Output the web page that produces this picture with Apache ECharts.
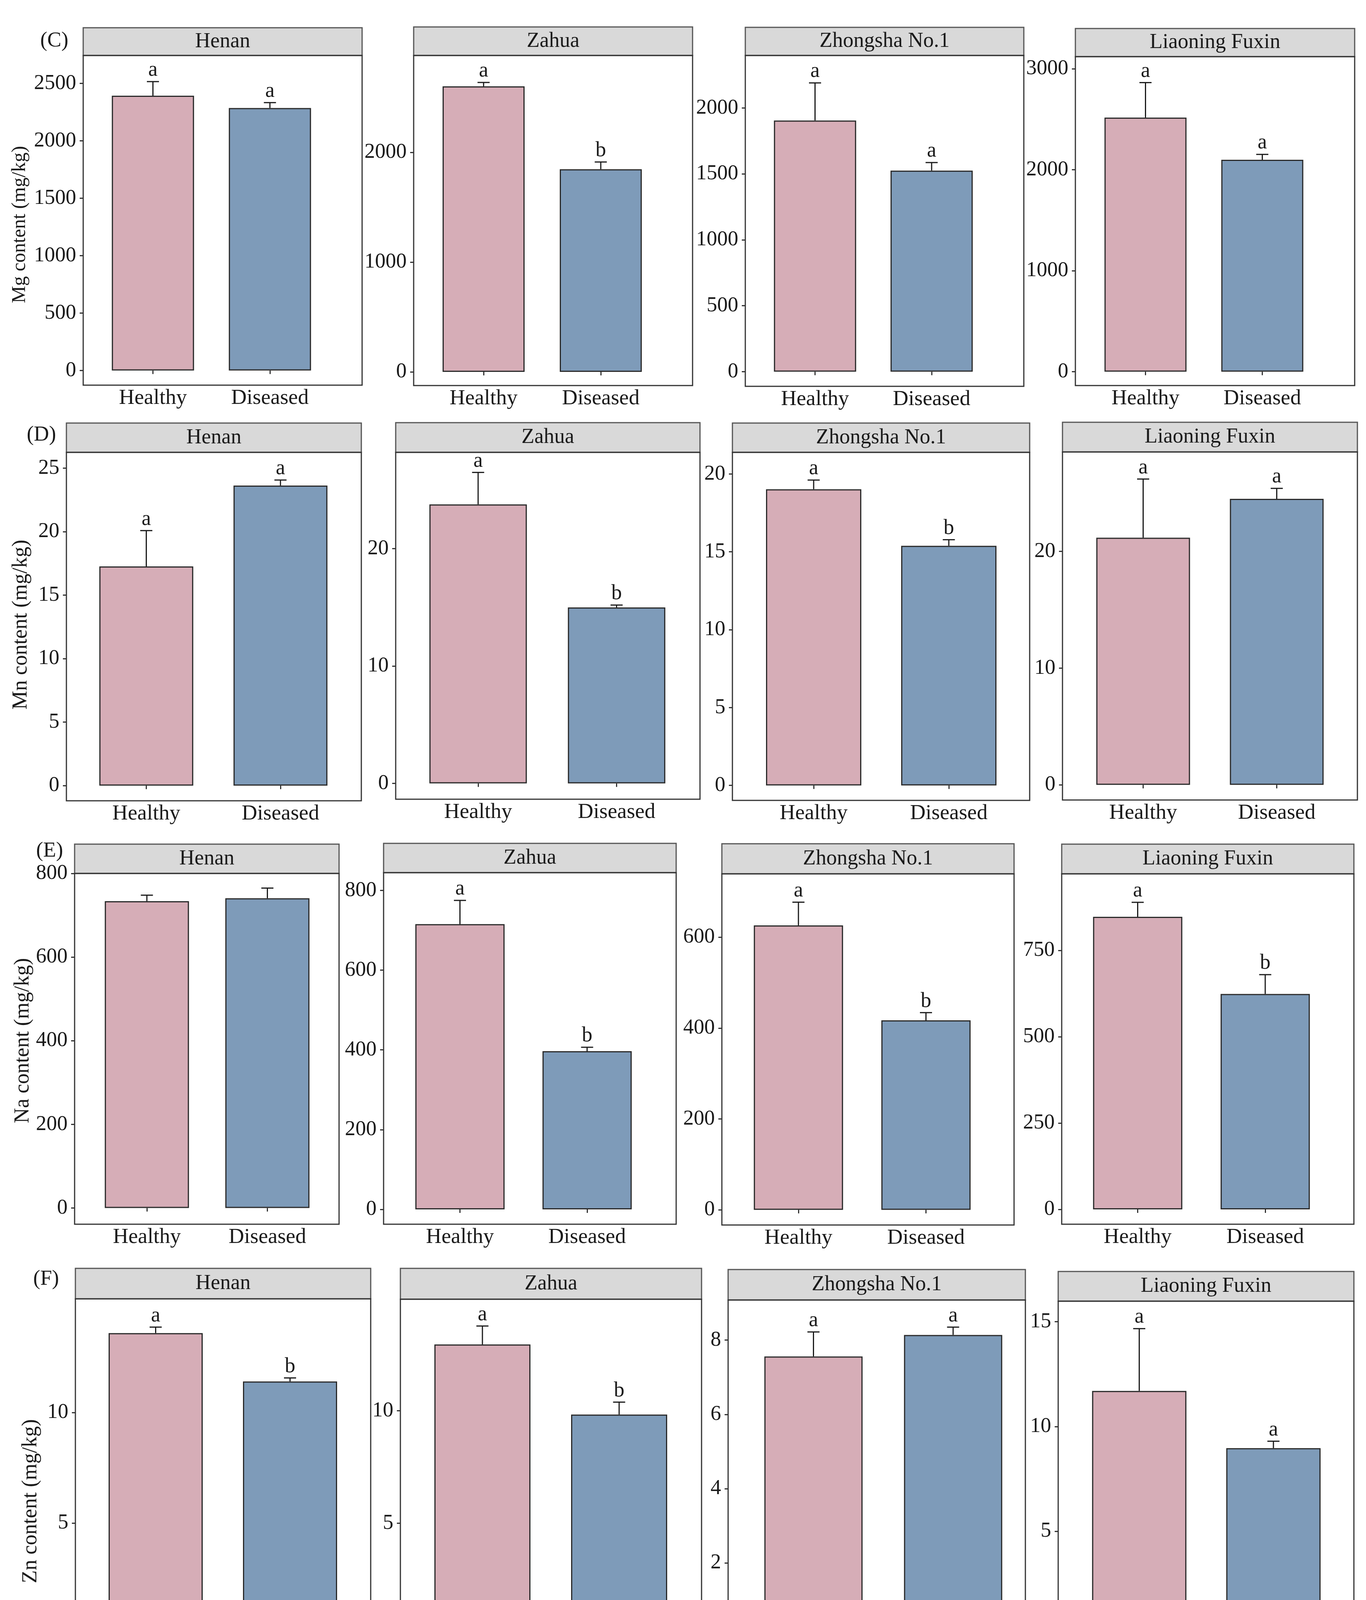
<!DOCTYPE html>
<html>
<head>
<meta charset="utf-8">
<script src="https://cdn.jsdelivr.net/npm/echarts@6/dist/echarts.min.js"></script>
<style>
html,body{margin:0;padding:0;background:#ffffff;overflow:hidden;}
#chart{width:3497px;height:4342px;}
</style>
</head>
<body>
<div id="chart"></div>
<script>
// ---------------- DATA ----------------
const categories = ['Healthy', 'Diseased'];
const varieties = ['Henan', 'Zahua', 'Zhongsha No.1', 'Liaoning Fuxin'];
const rowLabels = ['(C)', '(D)', '(E)', '(F)'];
const yTitles = ['Mg content (mg/kg)', 'Mn content (mg/kg)', 'Na content (mg/kg)', 'Zn content (mg/kg)'];

// mean values [Healthy, Diseased] per variety
const mgMean  = [[2393, 2286], [2603, 1847], [1905, 1525], [2517, 2099]];
const mgUpper = [[2516, 2333], [2638, 1913], [2190, 1586], [2863, 2152]];
const mgLetters = [['a', 'a'], ['a', 'b'], ['a', 'a'], ['a', 'a']];
const mgTicks = [[0, 500, 1000, 1500, 2000, 2500], [0, 1000, 2000], [0, 500, 1000, 1500, 2000], [0, 1000, 2000, 3000]];

const mnMean  = [[17.26, 23.63], [23.77, 14.99], [19.02, 15.39], [21.17, 24.5]];
const mnUpper = [[20.08, 24.06], [26.49, 15.19], [19.61, 15.78], [26.2, 25.4]];
const mnLetters = [['a', 'a'], ['a', 'b'], ['a', 'b'], ['a', 'a']];
const mnTicks = [[0, 5, 10, 15, 20, 25], [0, 10, 20], [0, 5, 10, 15, 20], [0, 10, 20]];

const naMean  = [[733.8, 740.6], [715.4, 396.7], [626, 417], [847, 623.6]];
const naUpper = [[748, 765], [775, 406.6], [677, 434], [889, 679.6]];
const naLetters = [['', ''], ['a', 'b'], ['a', 'b'], ['a', 'b']];
const naTicks = [[0, 200, 400, 600, 800], [0, 200, 400, 600, 800], [0, 200, 400, 600], [0, 250, 500, 750]];

const znMean  = [[13.6, 11.41], [12.94, 9.83], [7.56, 8.14], [11.70, 8.97]];
const znUpper = [[13.87, 11.57], [13.76, 10.38], [8.22, 8.35], [14.67, 9.30]];
const znLetters = [['a', 'b'], ['a', 'b'], ['a', 'a'], ['a', 'a']];
const znTicks = [[0, 5, 10], [0, 5, 10], [0, 2, 4, 6, 8], [0, 5, 10, 15]];

const rowsMean = [mgMean, mnMean, naMean, znMean];
const rowsUpper = [mgUpper, mnUpper, naUpper, znUpper];
const rowsLetters = [mgLetters, mnLetters, naLetters, znLetters];
const rowsTicks = [mgTicks, mnTicks, naTicks, znTicks];

// ---------------- LAYOUT (pixels) ----------------
// frame: [left, top, right, bottom, stripTop]
const frames = [
  [[213, 142, 927, 986, 71], [1059, 142, 1773, 987, 69], [1908, 142, 2621, 989, 70], [2753, 145, 3468, 987, 73]],
  [[170, 1158, 925, 2050, 1083], [1013, 1158, 1792, 2046, 1082], [1875, 1158, 2636, 2049, 1083], [2720, 1157, 3475, 2048, 1081]],
  [[191, 2236, 868, 3134, 2161], [982, 2234, 1731, 3134, 2159], [1848, 2237, 2596, 3136, 2160], [2718, 2237, 3466, 3134, 2161]],
  [[193, 3325, 949, 4222, 3247], [1025, 3326, 1796, 4227, 3247], [1864, 3328, 2625, 4231, 3250], [2709, 3331, 3466, 4229, 3255]]
];
// bar edges: [healthyLeft, healthyRight, diseasedLeft, diseasedRight]
const barEdges = [
  [[286, 497, 586, 796], [1133, 1343, 1433, 1643], [1981, 2192, 2280, 2490], [2828, 3037, 3126, 3337]],
  [[254, 495, 598, 838], [1099, 1349, 1454, 1703], [1961, 2205, 2307, 2551], [2806, 3047, 3149, 3388]],
  [[268, 484, 577, 792], [1064, 1291, 1388, 1618], [1930, 2158, 2256, 2485], [2798, 3027, 3125, 3353]],
  [[278, 519, 622, 863], [1112, 1358, 1462, 1708], [1957, 2208, 2314, 2566], [2796, 3037, 3139, 3381]]
];
// y axis extents [min, max]
const yRanges = [
  [[-127.6, 2743.6], [-124.6, 2884], [-111, 2398], [-137, 3120]],
  [[-1.19, 26.24], [-1.35, 28.2], [-0.96, 21.39], [-1.30, 28.52]],
  [[-38.7, 800], [-37.3, 844.6], [-33.3, 739.4], [-43, 971.5]],
  [[-0.71, 15.15], [-0.68, 14.95], [-0.416, 9.08], [-0.754, 15.98]]
];
const rowLabelPos = [[139, 105], [106, 1114], [127, 2179], [118, 3275]];
const yTitlePos = [[51, 575, 50], [54, 1599, 54], [59, 2664, 54], [79, 3843, 54]];

// ---------------- STYLE ----------------
const FONT = '"Liberation Serif", "Times New Roman", serif';
const TXT = '#1a1a1a';
const colors = ['#D6ADB7', '#7E9BB9'];
const frameColor = '#333333';

// ---------------- BUILD ----------------
const grid = [], xAxis = [], yAxis = [], series = [], graphic = [];
let gi = 0;
for (let r = 0; r < 4; r++) {
  for (let c = 0; c < 4; c++) {
    const [fl, ft, fr, fb, st] = frames[r][c];
    const [hl, hr, dl, dr] = barEdges[r][c];
    const c1 = (hl + hr) / 2, c2 = (dl + dr) / 2;
    const bw = ((hr - hl) + (dr - dl)) / 2;
    const W = 2 * (c2 - c1);
    const L = c1 - W / 4;
    grid.push({ left: L, top: ft, width: W, height: fb - ft, containLabel: false });
    xAxis.push({
      type: 'category', gridIndex: gi, data: categories,
      axisLine: { show: false },
      axisTick: { show: true, alignWithLabel: true, length: 9, lineStyle: { color: frameColor, width: 3 } },
      axisLabel: { fontFamily: FONT, fontSize: 55, color: TXT, margin: 6 },
      splitLine: { show: false }
    });
    yAxis.push({
      type: 'value', gridIndex: gi, min: yRanges[r][c][0], max: yRanges[r][c][1],
      offset: L - fl,
      axisLine: { show: false },
      axisTick: { show: true, length: 9, customValues: rowsTicks[r][c], lineStyle: { color: frameColor, width: 3 } },
      axisLabel: { fontFamily: FONT, fontSize: 54, color: TXT, margin: 18, customValues: rowsTicks[r][c], formatter: function (v) { return String(v); } },
      splitLine: { show: false }
    });
    const means = rowsMean[r][c];
    const uppers = rowsUpper[r][c];
    const letters = rowsLetters[r][c];
    series.push({
      type: 'bar', xAxisIndex: gi, yAxisIndex: gi, barWidth: bw,
      data: means.map((v, i) => ({ value: v, itemStyle: { color: colors[i] } })),
      itemStyle: { borderColor: '#2a2a2a', borderWidth: 3 },
      silent: true, animation: false, z: 2
    });
    series.push({
      type: 'custom', xAxisIndex: gi, yAxisIndex: gi, z: 3, silent: true, animation: false,
      data: means.map((v, i) => [i, v, uppers[i]]),
      renderItem: function (params, api) {
        const base = api.coord([api.value(0), api.value(1)]);
        const top = api.coord([api.value(0), api.value(2)]);
        const half = 15.5;
        const children = [
          { type: 'line', shape: { x1: base[0], y1: base[1], x2: base[0], y2: top[1] }, style: { stroke: '#1a1a1a', lineWidth: 3 } },
          { type: 'line', shape: { x1: base[0] - half, y1: top[1], x2: base[0] + half, y2: top[1] }, style: { stroke: '#1a1a1a', lineWidth: 3 } }
        ];
        const lt = letters[params.dataIndex];
        if (lt) {
          children.push({ type: 'text', style: { text: lt, x: base[0], y: top[1] - 2, align: 'center', verticalAlign: 'bottom', fontFamily: FONT, fontSize: 54, fill: TXT } });
        }
        return { type: 'group', children: children };
      }
    });
    // strip
    graphic.push({ type: 'rect', shape: { x: fl, y: st, width: fr - fl, height: ft - st }, style: { fill: '#D9D9D9', stroke: '#555555', lineWidth: 3 }, z: 10, silent: true });
    graphic.push({ type: 'text', x: (fl + fr) / 2, y: (st + ft) / 2, style: { text: varieties[c], align: 'center', verticalAlign: 'middle', fontFamily: FONT, fontSize: 54, fill: TXT }, z: 11, silent: true });
    // frame
    graphic.push({ type: 'rect', shape: { x: fl, y: ft, width: fr - fl, height: fb - ft }, style: { fill: 'none', stroke: frameColor, lineWidth: 3 }, z: 10, silent: true });
    gi++;
  }
  graphic.push({ type: 'text', x: rowLabelPos[r][0], y: rowLabelPos[r][1], style: { text: rowLabels[r], align: 'center', verticalAlign: 'middle', fontFamily: FONT, fontSize: 54, fill: TXT }, z: 11, silent: true });
  graphic.push({ type: 'text', x: yTitlePos[r][0], y: yTitlePos[r][1], rotation: Math.PI / 2, style: { text: yTitles[r], align: 'center', verticalAlign: 'middle', fontFamily: FONT, fontSize: yTitlePos[r][2], fill: TXT }, z: 11, silent: true });
}

const chart = echarts.init(document.getElementById('chart'), null, { renderer: 'canvas' });
chart.setOption({
  backgroundColor: '#ffffff',
  animation: false,
  grid: grid, xAxis: xAxis, yAxis: yAxis, series: series,
  graphic: { elements: graphic }
});
</script>
</body>
</html>
